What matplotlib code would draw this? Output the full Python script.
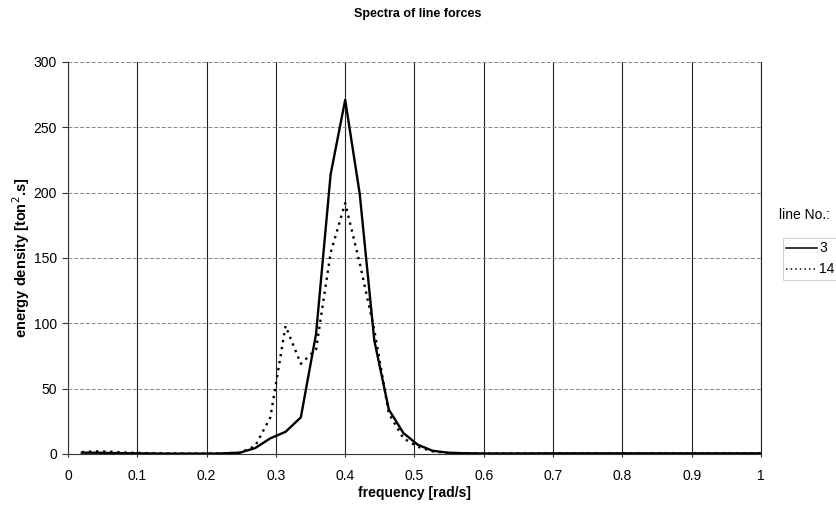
import matplotlib.pyplot as plt

plt.rcParams['font.family'] = ['Liberation Sans', 'DejaVu Sans']

# frequency [rad/s]
freq = [0.02, 0.04, 0.06, 0.08, 0.10, 0.12, 0.14, 0.16, 0.18, 0.20, 0.22,
        0.248, 0.270, 0.292, 0.314, 0.336, 0.358, 0.379, 0.400, 0.421,
        0.442, 0.463, 0.484, 0.505, 0.526, 0.548, 0.57, 0.6, 0.65, 0.7,
        0.75, 0.8, 0.85, 0.9, 0.95, 1.0]

# line 3
line3 = [1.0, 1.0, 0.8, 0.6, 0.5, 0.4, 0.3, 0.3, 0.3, 0.3, 0.4,
         1.0, 4.5, 12, 17, 28, 92, 214, 271, 199,
         87, 34, 16, 7, 2.5, 1.0, 0.6, 0.4, 0.4, 0.5,
         0.5, 0.5, 0.5, 0.5, 0.5, 0.5]

# line 14
line14 = [1.5, 2.0, 1.8, 1.2, 0.8, 0.6, 0.5, 0.4, 0.4, 0.4, 0.5,
          1.0, 6, 28, 98, 69, 80, 154, 192, 146,
          95, 31, 12, 5.5, 2.0, 0.8, 0.5, 0.4, 0.4, 0.4,
          0.4, 0.4, 0.4, 0.4, 0.4, 0.4]

fig = plt.figure(figsize=(8.36, 5.08), dpi=100)
ax = fig.add_axes([0.0813, 0.1063, 0.8290, 0.7717])

l1, = ax.plot(freq, line3, color='black', linewidth=1.7, linestyle='-', label='3')
l2, = ax.plot(freq, line14, color='black', linewidth=1.7, linestyle=(0, (1, 2)), label='14')

ax.set_xlim(0, 1)
ax.set_ylim(0, 300)
ax.set_xticks([i / 10 for i in range(11)])
ax.set_xticklabels(['0', '0.1', '0.2', '0.3', '0.4', '0.5', '0.6', '0.7', '0.8', '0.9', '1'])
ax.set_yticks(range(0, 301, 50))
ax.tick_params(axis='y', labelsize=10, length=4, width=0.8, color='#333333', pad=4)
ax.tick_params(axis='x', labelsize=10, length=2, width=0.8, color='#333333', pad=9)

ax.xaxis.grid(True, color='#222222', linewidth=0.8, linestyle='-')
ax.yaxis.grid(True, color='#888888', linewidth=0.7, linestyle=(0, (4, 2)))
ax.set_axisbelow(True)

for side in ['left', 'bottom']:
    ax.spines[side].set_color('#333333')
    ax.spines[side].set_linewidth(0.8)
ax.spines['top'].set_visible(False)
ax.spines['right'].set_color('#222222')
ax.spines['right'].set_linewidth(0.8)

ax.set_xlabel('frequency [rad/s]', fontsize=10, fontweight='bold', labelpad=2)
ax.set_ylabel('energy density [ton$^2$.s]', fontsize=10.5, fontweight='bold', labelpad=1)
fig.text(0.5, 0.972, 'Spectra of line forces', ha='center', va='center',
         fontsize=9, fontweight='bold')

fig.text(0.932, 0.577, 'line No.:', ha='left', va='center', fontsize=10)
leg = fig.legend(handles=[l1, l2], loc='upper left', bbox_to_anchor=(0.9363, 0.5315),
                 fontsize=10, frameon=True, fancybox=False, handlelength=2.25,
                 handletextpad=0.12, borderpad=0.25, labelspacing=0.5, borderaxespad=0)
leg.get_frame().set_edgecolor('#bbbbbb')
leg.get_frame().set_linewidth(0.6)
for h in leg.get_lines():
    h.set_linewidth(1.1)

fig.savefig('out.png', dpi=100)
